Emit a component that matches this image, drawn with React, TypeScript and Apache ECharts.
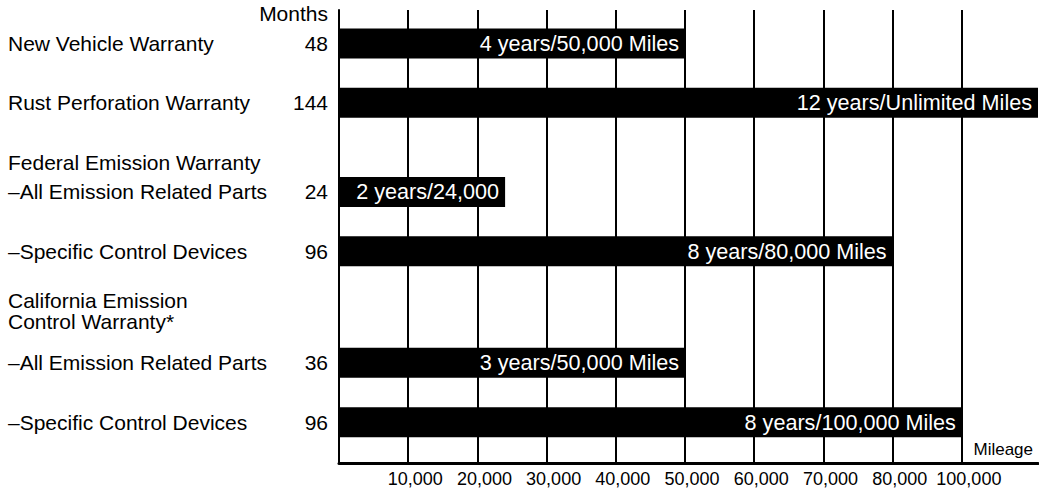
import React, { useEffect, useRef } from "react";
import * as echarts from "echarts";

// ---- Data ----
const rowNames = [
  "New Vehicle Warranty",
  "Rust Perforation Warranty",
  "–All Emission Related Parts",
  "–Specific Control Devices",
  "–All Emission Related Parts",
  "–Specific Control Devices",
];
const rowMonths = [48, 144, 24, 96, 36, 96];
// null = unlimited mileage (bar runs to the end of the scale)
const rowMiles: (number | null)[] = [50000, null, 24000, 80000, 50000, 100000];
const barLabels = [
  "4 years/50,000 Miles",
  "12 years/Unlimited Miles",
  "2 years/24,000",
  "8 years/80,000 Miles",
  "3 years/50,000 Miles",
  "8 years/100,000 Miles",
];
const groupHeadings = ["Federal Emission Warranty", "California Emission\nControl Warranty*"];
const monthsHeader = "Months";
const mileageTitle = "Mileage";
// The picture's mileage scale: equally spaced gridlines carrying these values
const tickMiles = [10000, 20000, 30000, 40000, 50000, 60000, 70000, 80000, 100000];
const tickLabels = ["10,000", "20,000", "30,000", "40,000", "50,000", "60,000", "70,000", "80,000", "100,000"];

// ---- Layout (slot positions on the category axis) ----
const SLOT_COUNT = 61;
const rowSlots = [4, 12, 24, 32, 47, 55];
const headingSlots = [20, 40];
const monthsHeaderSlot = 0;
const AXIS_MAX = 10.1; // scale end, in gridline steps

const FONT = "'Liberation Sans', Arial, Helvetica, sans-serif";

// convert miles to position on the picture's gridline scale
function milesToSteps(m: number | null): number {
  if (m === null) return AXIS_MAX;
  const stops = [0, ...tickMiles];
  for (let i = 1; i < stops.length; i++) {
    if (m <= stops[i]) {
      return i - 1 + (m - stops[i - 1]) / (stops[i] - stops[i - 1]);
    }
  }
  return AXIS_MAX;
}

export default function App() {
  const ref = useRef<HTMLDivElement>(null);

  useEffect(() => {
    document.body.style.margin = "0";
    if (!ref.current) return;
    const chart = echarts.init(ref.current, undefined, { renderer: "svg" });

    const slotKeys = Array.from({ length: SLOT_COUNT }, (_, i) => "s" + i);
    const nameText: string[] = Array(SLOT_COUNT).fill("");
    const monthText: string[] = Array(SLOT_COUNT).fill("");
    const slotRow: number[] = Array(SLOT_COUNT).fill(-1);
    rowSlots.forEach((s, r) => {
      nameText[s] = rowNames[r];
      monthText[s] = String(rowMonths[r]);
      slotRow[s] = r;
    });
    headingSlots.forEach((s, i) => {
      nameText[s] = groupHeadings[i];
    });
    monthText[monthsHeaderSlot] = monthsHeader;

    const barData = slotKeys.map((_, s) =>
      slotRow[s] >= 0 ? milesToSteps(rowMiles[slotRow[s]]) : null
    );

    const option: echarts.EChartsOption = {
      animation: false,
      backgroundColor: "#fff",
      textStyle: { fontFamily: FONT, color: "#000" },
      grid: { left: 339, right: 1, top: 10, bottom: 27, containLabel: false },
      xAxis: {
        type: "value",
        min: 0,
        max: AXIS_MAX,
        interval: 1,
        splitLine: { show: false },
        axisTick: { show: false },
        axisLine: { show: true, lineStyle: { color: "#000", width: 3 } },
        axisLabel: {
          color: "#000",
          fontFamily: FONT,
          fontSize: 18,
          margin: 7,
          padding: [0, 0, 0, 14],
          showMinLabel: false,
          showMaxLabel: false,
          formatter: (v: number) => {
            const i = Math.round(v);
            if (Math.abs(v - i) > 1e-6 || i < 1 || i > tickLabels.length) return "";
            return tickLabels[i - 1];
          },
        },
      },
      yAxis: [
        {
          type: "category",
          data: slotKeys,
          inverse: true,
          axisTick: { show: false },
          splitLine: { show: false },
          axisLine: { show: true, lineStyle: { color: "#000", width: 2 } },
          axisLabel: {
            interval: 0,
            align: "left",
            margin: 331,
            color: "#000",
            fontFamily: FONT,
            fontSize: 21,
            lineHeight: 21,
            formatter: (_v: string, idx: number) => nameText[idx],
          },
        },
        {
          type: "category",
          data: slotKeys,
          inverse: true,
          position: "left",
          axisTick: { show: false },
          splitLine: { show: false },
          axisLine: { show: false },
          axisLabel: {
            interval: 0,
            align: "right",
            margin: 11,
            color: "#000",
            fontFamily: FONT,
            fontSize: 21,
            formatter: (_v: string, idx: number) => monthText[idx],
          },
        },
      ],
      series: [
        {
          type: "bar",
          yAxisIndex: 0,
          data: barData,
          barWidth: 30,
          z: 3,
          itemStyle: { color: "#000" },
          label: {
            show: true,
            position: "insideRight",
            distance: 6,
            color: "#fff",
            fontFamily: FONT,
            fontSize: 21.6,
            formatter: (p: any) => {
              const r = slotRow[p.dataIndex];
              return r >= 0 ? barLabels[r] : "";
            },
          },
          markLine: {
            silent: true,
            z: 1,
            symbol: ["none", "none"],
            label: { show: false },
            lineStyle: { color: "#000", width: 2, type: "solid" },
            data: tickMiles.map((_, i) => ({ xAxis: i + 1 })),
          },
        },
      ],
      graphic: [
        {
          type: "text",
          right: 6,
          top: 441,
          style: {
            text: mileageTitle,
            fill: "#000",
            font: `17px ${FONT}`,
          },
        },
      ],
    };

    chart.setOption(option);
    return () => chart.dispose();
  }, []);

  return <div ref={ref} style={{ width: 1039, height: 490 }} />;
}
